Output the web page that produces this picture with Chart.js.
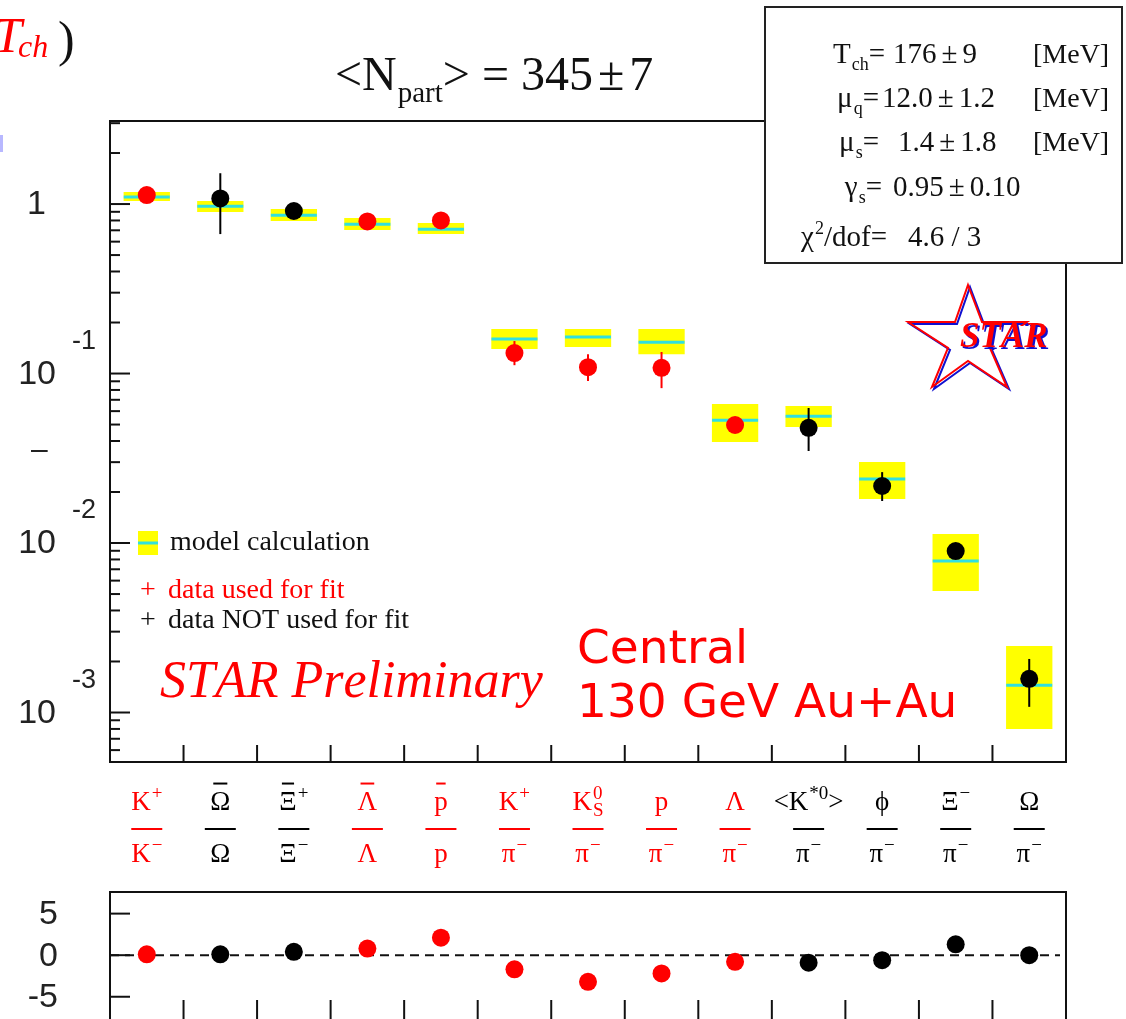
<!DOCTYPE html>
<html>
<head>
<meta charset="utf-8">
<script src="https://cdn.jsdelivr.net/npm/chart.js@4.4.1/dist/chart.umd.min.js"></script>
<style>
html, body { margin: 0; padding: 0; background: #fff; overflow: hidden; }
#wrap { position: relative; width: 1126px; height: 1019px; overflow: hidden; background: #fff; }
#top { position: absolute; left: 0; top: 0; }
#bottom { position: absolute; left: 0; top: 880px; }
</style>
</head>
<body>
<div id="wrap">
  <canvas id="top" width="1126" height="880"></canvas>
  <canvas id="bottom" width="1126" height="160"></canvas>
</div>
<script>
// particle ratios (numerator / denominator), ~{x} = overbar, ^{..} sup, _{..} sub
var ratioNum = ['K^{+}', '~{Ω}', '~{Ξ}^{+}', '~{Λ}', '~{p}', 'K^{+}', 'K^{0}_{S}', 'p', 'Λ', '<K^{*0}>', 'ϕ', 'Ξ^{−}', 'Ω'];
var ratioDen = ['K^{−}', 'Ω', 'Ξ^{−}', 'Λ', 'p', 'π^{−}', 'π^{−}', 'π^{−}', 'π^{−}', 'π^{−}', 'π^{−}', 'π^{−}', 'π^{−}'];
var usedForFit = [true, false, false, true, true, true, true, true, true, false, false, false, false];

// measured ratios with error bar ends
var dataValue = [1.13, 1.08, 0.91, 0.79, 0.80, 0.132, 0.109, 0.108, 0.0497, 0.0478, 0.0217, 0.00897, 0.00158];
var dataHigh  = [1.17, 1.52, 0.94, 0.82, 0.83, 0.1555, 0.130, 0.134, 0.0515, 0.0626, 0.0262, 0.0093, 0.00207];
var dataLow   = [1.09, 0.665, 0.88, 0.76, 0.77, 0.112, 0.0903, 0.082, 0.048, 0.0349, 0.0177, 0.0087, 0.00108];

// thermal model: central value and band
var modelValue = [1.10, 0.97, 0.86, 0.76, 0.71, 0.160, 0.164, 0.153, 0.053, 0.056, 0.0239, 0.00783, 0.00145];
var modelHigh  = [1.177, 1.041, 0.934, 0.827, 0.772, 0.183, 0.183, 0.183, 0.066, 0.0643, 0.0301, 0.0113, 0.00247];
var modelLow   = [1.041, 0.897, 0.794, 0.702, 0.665, 0.1395, 0.1433, 0.130, 0.0394, 0.0483, 0.0182, 0.00521, 0.0008];

// (data - model) / error
var residual = [0.1, 0.1, 0.4, 0.8, 2.1, -1.7, -3.2, -2.2, -0.8, -0.9, -0.6, 1.3, 0.0];

var yDecades = [1, 0.1, 0.01, 0.001];
var yDecadeExp = ['', '-1', '-2', '-3'];
var residTicks = [5, 0, -5];
var residTickLabels = ['5', '0', '-5'];

var infoLines = [
  ['T_{ch}=', '176±9', '[MeV]'],
  ['μ_{q}=', '12.0±1.2', '[MeV]'],
  ['μ_{s}=', '1.4±1.8', '[MeV]'],
  ['γ_{s}=', '0.95±0.10', ''],
  ['χ^{2}/dof=', '4.6 / 3', '']
];

var RED = '#ff0000';
var INK = '#111111';
var serif = '"Liberation Serif", "Times New Roman", serif';
var sans = '"Liberation Sans", Arial, sans-serif';
var labels = ratioNum.map(function (n, i) { return n + '/' + ratioDen[i]; });
var colors = usedForFit.map(function (u) { return u ? RED : '#000000'; });

// --- tiny rich text helper ---
function parseRich(s) {
  var parts = [], i = 0;
  while (i < s.length) {
    var c = s[i];
    if ((c === '^' || c === '_' || c === '~') && s[i + 1] === '{') {
      var j = s.indexOf('}', i);
      parts.push({ kind: c, text: s.slice(i + 2, j) });
      i = j + 1;
    } else {
      parts.push({ kind: 'b', text: c });
      i++;
    }
  }
  return parts;
}

function layoutRich(ctx, s, size, style, family, supRatio) {
  var items = [], x = 0, supStart = null;
  parseRich(s).forEach(function (p) {
    var w;
    if (p.kind === 'b' || p.kind === '~') {
      ctx.font = style + size + 'px ' + family;
      if (p.text === '±') x += 5;
      w = ctx.measureText(p.text).width;
      items.push({ text: p.text, x: x, dy: 0, size: size, w: w, bar: p.kind === '~' });
      x += w;
      if (p.text === '±') x += 5;
      supStart = null;
    } else {
      var s2 = Math.round(size * supRatio);
      ctx.font = style + s2 + 'px ' + family;
      w = ctx.measureText(p.text).width;
      if (p.kind === '^') {
        items.push({ text: p.text, x: x + 1, dy: -size * 0.42, size: s2, w: w });
        supStart = x;
        x += w + 1;
      } else {
        var st = supStart !== null ? supStart : x;
        items.push({ text: p.text, x: st + 1, dy: size * 0.24, size: s2, w: w });
        x = Math.max(x, st + 1 + w);
      }
    }
  });
  return { items: items, width: x };
}

function drawRich(ctx, s, x, base, size, o) {
  o = o || {};
  var style = o.style || '', family = o.family || serif;
  var lay = layoutRich(ctx, s, size, style, family, o.sup || 0.62);
  var x0 = o.align === 'center' ? x - lay.width / 2 : (o.align === 'right' ? x - lay.width : x);
  ctx.fillStyle = o.color || INK;
  ctx.strokeStyle = o.color || INK;
  ctx.textAlign = 'left';
  ctx.textBaseline = 'alphabetic';
  lay.items.forEach(function (it) {
    ctx.font = style + it.size + 'px ' + family;
    ctx.fillText(it.text, x0 + it.x, base + it.dy);
    if (it.bar) {
      ctx.lineWidth = 2;
      ctx.beginPath();
      ctx.moveTo(x0 + it.x + it.w * 0.15, base - size * 0.98);
      ctx.lineTo(x0 + it.x + it.w * 0.85, base - size * 0.98);
      ctx.stroke();
    }
  });
  return lay.width;
}

function line(ctx, x1, y1, x2, y2) {
  ctx.beginPath(); ctx.moveTo(x1, y1); ctx.lineTo(x2, y2); ctx.stroke();
}

// --- upper panel decorations ---
var errorBars = {
  id: 'errorBars',
  afterDatasetsDraw: function (chart) {
    var ctx = chart.ctx, x = chart.scales.x, y = chart.scales.y;
    ctx.save();
    ctx.lineWidth = 2;
    dataValue.forEach(function (v, i) {
      var px = x.getPixelForValue(i);
      ctx.strokeStyle = colors[i];
      line(ctx, px, y.getPixelForValue(dataHigh[i]), px, y.getPixelForValue(dataLow[i]));
    });
    ctx.restore();
  }
};

var upperDecor = {
  id: 'upperDecor',
  afterDraw: function (chart) {
    var ctx = chart.ctx, a = chart.chartArea, x = chart.scales.x, y = chart.scales.y;
    ctx.save();
    ctx.strokeStyle = INK;
    ctx.lineWidth = 2;
    ctx.strokeRect(a.left, a.top, a.right - a.left, a.bottom - a.top);

    // y ticks (major + minor), drawn inside the frame
    [1, 0.1, 0.01, 0.001, 0.0001].forEach(function (d) {
      for (var k = 1; k <= 9; k++) {
        var v = d * k;
        if (v < y.min || v > y.max) continue;
        var py = y.getPixelForValue(v);
        line(ctx, a.left, py, a.left + (k === 1 ? 20 : 10), py);
      }
    });
    // y labels
    ctx.fillStyle = '#222';
    yDecades.forEach(function (v, i) {
      var py = y.getPixelForValue(v);
      ctx.textAlign = 'right';
      ctx.textBaseline = 'middle';
      ctx.font = '34px ' + sans;
      if (yDecadeExp[i] === '') {
        ctx.fillText('1', 46, py + 1);
      } else {
        ctx.fillText('10', 56, py + 1);
        ctx.textAlign = 'left';
        ctx.font = '27px ' + sans;
        ctx.fillText(yDecadeExp[i], 72, py - 32);
      }
    });
    ctx.textAlign = 'left';
    ctx.textBaseline = 'alphabetic';
    ctx.font = '30px ' + sans;
    ctx.fillText('–', 31, 459);

    // x ticks at category edges
    for (var i = 0; i < labels.length - 1; i++) {
      var ex = (x.getPixelForValue(i) + x.getPixelForValue(i + 1)) / 2;
      line(ctx, ex, a.bottom, ex, a.bottom - 17);
    }

    // category labels as fractions
    labels.forEach(function (l, i) {
      var cx = x.getPixelForValue(i);
      drawRich(ctx, ratioNum[i], cx, 810, 27, { align: 'center', color: colors[i], sup: 0.7 });
      ctx.strokeStyle = colors[i];
      ctx.lineWidth = 2;
      line(ctx, cx - 15.5, 829, cx + 15.5, 829);
      drawRich(ctx, ratioDen[i], cx, 862, 27, { align: 'center', color: colors[i], sup: 0.7 });
    });

    // legend
    ctx.fillStyle = '#ffff00';
    ctx.fillRect(138, 531, 20, 24);
    ctx.strokeStyle = '#30e0e0';
    ctx.lineWidth = 3;
    line(ctx, 138, 543, 158, 543);
    drawRich(ctx, 'model calculation', 170, 550, 28);
    drawRich(ctx, '+', 140, 598, 28, { color: RED });
    drawRich(ctx, 'data used for fit', 168, 598, 28, { color: RED });
    drawRich(ctx, '+', 140, 628, 28);
    drawRich(ctx, 'data NOT used for fit', 168, 628, 28);

    drawRich(ctx, 'STAR Preliminary', 160, 697, 52, { style: 'italic ', color: RED });
    drawRich(ctx, 'Central', 577, 663, 47, { family: '"DejaVu Sans", sans-serif', color: RED });
    drawRich(ctx, '130 GeV Au+Au', 577, 717, 47, { family: '"DejaVu Sans", sans-serif', color: RED });

    // STAR logo
    var star = [[968, 285], [982, 322], [1027, 322], [990, 348], [1007, 387], [968, 361], [932, 387], [948, 348], [908, 322], [955, 322]];
    [['#1010d0', 2], [RED, 0]].forEach(function (s) {
      ctx.strokeStyle = s[0];
      ctx.lineWidth = 2;
      ctx.beginPath();
      star.forEach(function (p, k) { if (k) ctx.lineTo(p[0] + s[1], p[1] + s[1]); else ctx.moveTo(p[0] + s[1], p[1] + s[1]); });
      ctx.closePath();
      ctx.stroke();
    });
    ctx.fillStyle = '#fff';
    ctx.fillRect(957, 326, 95, 22);
    drawRich(ctx, 'STAR', 962, 349, 35, { style: 'bold italic ', color: '#1010d0' });
    drawRich(ctx, 'STAR', 960, 347, 35, { style: 'bold italic ', color: RED });

    // title
    drawRich(ctx, '<N_{part}> = 345±7', 335, 90, 48, { sup: 0.6 });

    // fragment at top-left corner
    drawRich(ctx, 'T', -6, 52, 50, { style: 'italic ', color: RED });
    drawRich(ctx, 'ch', 18, 57, 32, { style: 'italic ', color: RED });
    drawRich(ctx, ')', 58, 56, 50);
    ctx.fillStyle = '#b8b8ff';
    ctx.fillRect(0, 135, 3, 17);

    // fit parameter box
    ctx.fillStyle = '#fff';
    ctx.fillRect(765, 7, 357, 256);
    ctx.strokeStyle = '#222';
    ctx.lineWidth = 2;
    ctx.strokeRect(765, 7, 357, 256);
    var lx = [885, 879, 879, 882, 887], vx = [893, 882, 898, 893, 908], by = [63, 107, 151, 196, 246];
    infoLines.forEach(function (ln, k) {
      drawRich(ctx, ln[0], lx[k], by[k], 29, { align: 'right' });
      drawRich(ctx, ln[1], vx[k], by[k], 29);
      if (ln[2]) drawRich(ctx, ln[2], 1033, by[k], 28);
    });
    ctx.restore();
  }
};

new Chart(document.getElementById('top'), {
  data: {
    labels: labels,
    datasets: [
      {
        type: 'bar',
        data: modelLow.map(function (lo, i) { return [lo, modelHigh[i]]; }),
        backgroundColor: '#ffff00',
        borderWidth: 0,
        barPercentage: 0.63,
        categoryPercentage: 1,
        grouped: false,
        order: 3
      },
      {
        type: 'line',
        data: modelValue,
        showLine: false,
        pointStyle: 'line',
        pointRadius: 23,
        pointBorderColor: '#30e0e0',
        pointBorderWidth: 3,
        order: 2
      },
      {
        type: 'line',
        data: dataValue,
        showLine: false,
        pointStyle: 'circle',
        pointRadius: 9,
        pointBorderWidth: 0,
        pointBackgroundColor: colors,
        pointBorderColor: colors,
        order: 1
      }
    ]
  },
  options: {
    responsive: false,
    animation: false,
    layout: { padding: { left: 110, right: 60, top: 121, bottom: 118 } },
    plugins: { legend: { display: false }, tooltip: { enabled: false } },
    scales: {
      x: { type: 'category', offset: true, display: false },
      y: { type: 'logarithmic', min: Math.pow(10, -3.292), max: Math.pow(10, 0.49), display: false }
    }
  },
  plugins: [errorBars, upperDecor]
});

// --- lower panel: residuals ---
var lowerDecor = {
  id: 'lowerDecor',
  beforeDatasetsDraw: function (chart) {
    var ctx = chart.ctx, a = chart.chartArea, y = chart.scales.y;
    ctx.save();
    ctx.strokeStyle = INK;
    ctx.lineWidth = 2;
    ctx.setLineDash([9, 6]);
    var py = y.getPixelForValue(0);
    line(ctx, a.left, py, a.right - 6, py);
    ctx.restore();
  },
  afterDraw: function (chart) {
    var ctx = chart.ctx, a = chart.chartArea, x = chart.scales.x, y = chart.scales.y;
    ctx.save();
    ctx.strokeStyle = INK;
    ctx.lineWidth = 2;
    ctx.strokeRect(a.left, a.top, a.right - a.left, a.bottom - a.top);
    ctx.fillStyle = '#222';
    ctx.font = '34px ' + sans;
    ctx.textAlign = 'right';
    ctx.textBaseline = 'middle';
    residTicks.forEach(function (v, i) {
      var py = y.getPixelForValue(v);
      line(ctx, a.left, py, a.left + 20, py);
      ctx.fillText(residTickLabels[i], 58, py + 1);
    });
    for (var i = 0; i < labels.length - 1; i++) {
      var ex = (x.getPixelForValue(i) + x.getPixelForValue(i + 1)) / 2;
      line(ctx, ex, a.bottom, ex, a.bottom - 30);
    }
    ctx.restore();
  }
};

new Chart(document.getElementById('bottom'), {
  type: 'line',
  data: {
    labels: labels,
    datasets: [{
      data: residual,
      showLine: false,
      pointStyle: 'circle',
      pointRadius: 9,
      pointBorderWidth: 0,
      pointBackgroundColor: colors,
      pointBorderColor: colors
    }]
  },
  options: {
    responsive: false,
    animation: false,
    layout: { padding: { left: 110, right: 60, top: 12, bottom: 10 } },
    plugins: { legend: { display: false }, tooltip: { enabled: false } },
    scales: {
      x: { type: 'category', offset: true, display: false },
      y: { type: 'linear', min: -9, max: 7.6, display: false }
    }
  },
  plugins: [lowerDecor]
});
</script>
</body>
</html>
